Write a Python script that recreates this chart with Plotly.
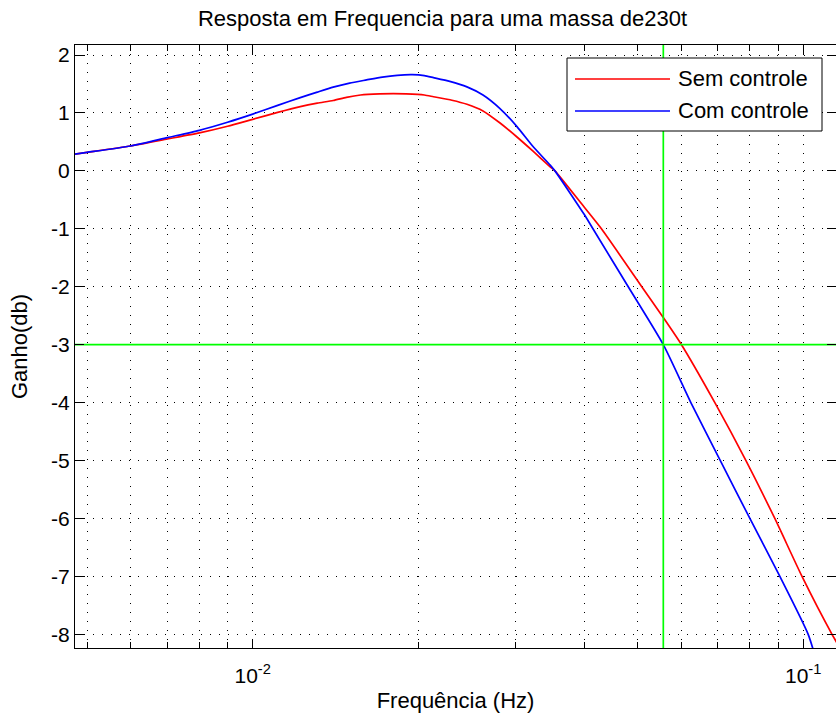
import math
import plotly.graph_objects as go

# ---- data ----
freq_sem = [0.00475, 0.005, 0.006, 0.007, 0.008, 0.009, 0.010, 0.0111, 0.0122, 0.0131,
            0.0140, 0.0148, 0.0157, 0.0170, 0.0180, 0.0190, 0.0205, 0.0213, 0.0230, 0.0245,
            0.0262, 0.0281, 0.0302, 0.0323, 0.0347, 0.0354, 0.0400, 0.0430, 0.0509, 0.0554,
            0.0601, 0.0691, 0.0787, 0.0888, 0.0995, 0.1128, 0.1160]
gain_sem = [0.29, 0.32, 0.43, 0.55, 0.655, 0.77, 0.89, 1.01, 1.11, 1.17,
            1.215, 1.27, 1.31, 1.33, 1.335, 1.33, 1.31, 1.28, 1.22, 1.15,
            1.035, 0.83, 0.585, 0.34, 0.07, 0.0, -0.625, -1.0, -2.0, -2.5,
            -3.0, -4.0, -5.0, -6.0, -7.0, -8.0, -8.2]

freq_com = [0.00475, 0.005, 0.006, 0.007, 0.008, 0.009, 0.010, 0.0111, 0.0122, 0.0131,
            0.0140, 0.0150, 0.0161, 0.0172, 0.0183, 0.0195, 0.0205, 0.0213, 0.0228, 0.0245,
            0.0262, 0.0281, 0.0302, 0.0323, 0.0347, 0.0354, 0.0400, 0.0415, 0.0481,
            0.0557, 0.0625, 0.0707, 0.0800, 0.0907, 0.1021, 0.1060]
gain_com = [0.29, 0.32, 0.43, 0.575, 0.70, 0.84, 0.98, 1.13, 1.265, 1.36,
            1.445, 1.515, 1.57, 1.62, 1.65, 1.66, 1.645, 1.61, 1.545, 1.45,
            1.31, 1.08, 0.765, 0.42, 0.10, 0.0, -0.75, -1.0, -2.0,
            -3.0, -4.0, -5.0, -6.0, -7.0, -8.0, -8.5]

cutoff_freq = 0.0557
cutoff_gain = -3

x_limits = [0.004755, 0.1147]
y_limits = [-8.236, 2.173]

x_major_ticks = [0.01, 0.1]
x_major_text = ["10<sup>-2</sup>", "10<sup>-1</sup>"]
x_minor_ticks = [0.005, 0.006, 0.007, 0.008, 0.009,
                 0.02, 0.03, 0.04, 0.05, 0.06, 0.07, 0.08, 0.09]
y_ticks = [2, 1, 0, -1, -2, -3, -4, -5, -6, -7, -8]
y_tick_text = ["2", "1", "0", "-1", "-2", "-3", "-4", "-5", "-6", "-7", "-8"]

series_names = ["Sem controle", "Com controle"]
series_colors = ["#ff0000", "#0000ff"]

FONT = "Liberation Sans, Arial, sans-serif"
GRID_DASH = "1px,8px"
LW = 1.7

fig = go.Figure()
fig.add_trace(go.Scatter(x=freq_sem, y=gain_sem, mode="lines", name=series_names[0],
                         line=dict(color=series_colors[0], width=LW, shape="spline", smoothing=0.6),
                         showlegend=False))
fig.add_trace(go.Scatter(x=freq_com, y=gain_com, mode="lines", name=series_names[1],
                         line=dict(color=series_colors[1], width=LW, shape="spline", smoothing=0.6),
                         showlegend=False))
# -3 dB reference lines
fig.add_trace(go.Scatter(x=[cutoff_freq, cutoff_freq], y=[y_limits[0] - 1, y_limits[1] + 1],
                         mode="lines", line=dict(color="#00ff00", width=LW), showlegend=False))
fig.add_trace(go.Scatter(x=[x_limits[0] / 2, x_limits[1] * 2], y=[cutoff_gain, cutoff_gain],
                         mode="lines", line=dict(color="#00ff00", width=LW), showlegend=False))

W, H = 836, 722
ml, mr, mt, mb = 75, 0, 45, 74
pw, ph = W - ml - mr, H - mt - mb

def px_x(p):
    return (p - ml) / pw

def px_y(p):
    return (H - mb - p) / ph

# manual legend box (MATLAB style, long line samples)
shapes = [
    dict(type="rect", xref="paper", yref="paper", x0=px_x(567), x1=px_x(822),
         y0=px_y(131), y1=px_y(58), line=dict(color="black", width=1), fillcolor="white",
         layer="above"),
]
annotations = []
for i, (nm, col) in enumerate(zip(series_names, series_colors)):
    yy = px_y(79 + 32 * i)
    shapes.append(dict(type="line", xref="paper", yref="paper", x0=px_x(575), x1=px_x(670),
                       y0=yy, y1=yy, line=dict(color=col, width=LW), layer="above"))
    annotations.append(dict(text=nm, xref="paper", yref="paper", x=px_x(676), y=yy,
                            xanchor="left", yanchor="middle", showarrow=False,
                            font=dict(family=FONT, size=22, color="black")))

fig.update_layout(
    width=W, height=H,
    margin=dict(l=ml, r=mr, t=mt, b=mb, autoexpand=False),
    paper_bgcolor="white", plot_bgcolor="white",
    font=dict(family=FONT, size=21, color="black"),
    title=dict(text="Resposta em Frequencia para uma massa de230t",
               font=dict(family=FONT, size=22, color="black"),
               x=442.5 / W, xref="container", xanchor="center",
               y=1 - 18 / H, yref="container", yanchor="middle"),
    showlegend=False,
    shapes=shapes,
    annotations=annotations,
)

fig.update_xaxes(
    type="log", range=[math.log10(x_limits[0]), math.log10(x_limits[1])],
    automargin=False,
    tickmode="array", tickvals=x_major_ticks, ticktext=x_major_text,
    ticks="inside", ticklen=9, tickcolor="black", tickwidth=1,
    showline=True, linecolor="black", linewidth=1, mirror="ticks",
    showgrid=True, gridcolor="black", gridwidth=1, griddash=GRID_DASH,
    zeroline=False,
    tickfont=dict(family=FONT, size=21, color="black"),
    ticklabelstandoff=9,
    minor=dict(tickmode="array", tickvals=x_minor_ticks, ticks="inside", ticklen=6,
               tickcolor="black", showgrid=True, gridcolor="black", gridwidth=1,
               griddash=GRID_DASH),
    title=dict(text="Frequência (Hz)", font=dict(family=FONT, size=22, color="black"),
               standoff=6),
)
fig.update_yaxes(
    range=y_limits, automargin=False,
    tickmode="array", tickvals=y_ticks, ticktext=y_tick_text,
    ticks="inside", ticklen=9, tickcolor="black", tickwidth=1,
    showline=True, linecolor="black", linewidth=1, mirror="ticks",
    showgrid=True, gridcolor="black", gridwidth=1, griddash=GRID_DASH,
    zeroline=False,
    tickfont=dict(family=FONT, size=21, color="black"),
    ticklabelstandoff=0,
    title=dict(text="Ganho(db)", font=dict(family=FONT, size=22, color="black"),
               standoff=17),
)

fig.write_html(
    "out.html",
    config={"displayModeBar": False},
    post_script="document.body.style.margin='0';document.body.style.overflow='hidden';",
)
